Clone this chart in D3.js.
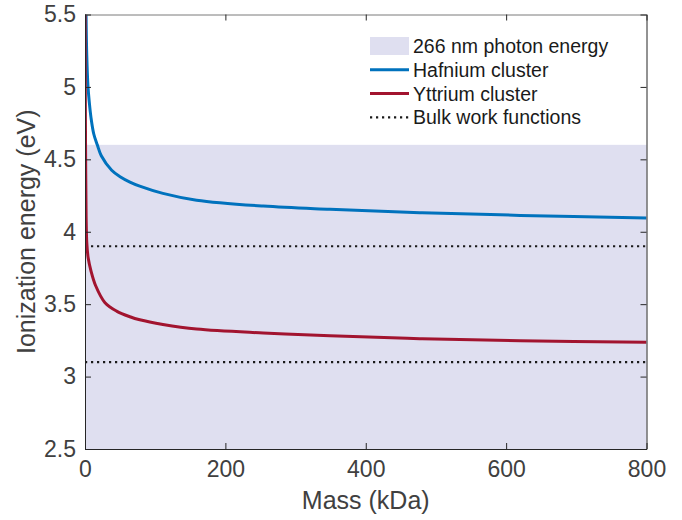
<!DOCTYPE html>
<html lang="en">
<head>
    <meta charset="UTF-8">
    <title>Ionization energy</title>
    <script src="https://cdn.jsdelivr.net/npm/d3@7"></script>
    <style>
        body { margin: 0; background: #fff; }
        text { font-family: "Liberation Sans", Arial, Helvetica, sans-serif; }
    </style>
</head>
<body>
</body>
<script>
    const width = 682;
    const height = 520;

    // values
    const hfMass = [1.5, 2.5, 4.3, 6, 8.5, 12.5, 17.5, 23.2, 38, 50, 64, 78, 111, 159, 254, 349, 477, 620, 800];
    const hfEnergy = [5.5, 5.22, 5.0, 4.9, 4.79, 4.675, 4.6, 4.525, 4.425, 4.38, 4.343, 4.315, 4.265, 4.218, 4.177, 4.155, 4.132, 4.113, 4.095];
    const yMass = [0.2, 0.4, 0.9, 1.6, 2.6, 4.5, 8.5, 15.2, 28.5, 45, 64, 78, 111, 159, 254, 349, 477, 620, 800];
    const yEnergy = [5.5, 5.0, 4.5, 4.1, 3.92, 3.82, 3.73, 3.627, 3.51, 3.452, 3.413, 3.392, 3.36, 3.328, 3.301, 3.282, 3.262, 3.248, 3.237];
    const photonEnergy = 4.6;
    const workFunctions = [3.9, 3.1];
    const xTicks = [0, 200, 400, 600, 800];
    const yTicks = [2.5, 3, 3.5, 4, 4.5, 5, 5.5];
    const legendLabels = ["266 nm photon energy", "Hafnium cluster", "Yttrium cluster", "Bulk work functions"];

    const blue = "#0072bd";
    const red = "#a2142f";
    const shade = "#dfdff0";
    const axisColor = "#262626";

    const pLeft = 85, pRight = 646.5, pTop = 14.5, pBottom = 449;

    const x = d3.scaleLinear().domain([0, 800]).range([pLeft, pRight]);
    const y = d3.scaleLinear().domain([2.5, 5.5]).range([pBottom, pTop]);

    const svg = d3.select("body")
    .append("svg")
        .attr("width", width)
        .attr("height", height);

    svg.append("clipPath")
        .attr("id", "plot-clip")
      .append("rect")
        .attr("x", pLeft)
        .attr("y", pTop)
        .attr("width", pRight - pLeft)
        .attr("height", pBottom - pTop);

    // shaded band up to the photon energy
    svg.append("rect")
        .attr("x", x(0))
        .attr("y", y(photonEnergy))
        .attr("width", x(800) - x(0))
        .attr("height", y(2.5) - y(photonEnergy))
        .attr("fill", shade);

    const plot = svg.append("g").attr("clip-path", "url(#plot-clip)");

    // bulk work functions
    plot.selectAll("line.work")
        .data(workFunctions)
        .enter()
        .append("line")
        .attr("class", "work")
        .attr("x1", x(0))
        .attr("x2", x(800))
        .attr("y1", d => y(d))
        .attr("y2", d => y(d))
        .attr("stroke", "#1a1a1a")
        .attr("stroke-width", 2.2)
        .attr("stroke-dasharray", "2.2,3.8");

    const line = d3.line()
        .x(d => x(d[0]))
        .y(d => y(d[1]))
        .curve(d3.curveCatmullRom.alpha(0.5));

    plot.append("path")
        .attr("d", line(d3.zip(hfMass, hfEnergy)))
        .attr("fill", "none")
        .attr("stroke", blue)
        .attr("stroke-width", 3);

    plot.append("path")
        .attr("d", line(d3.zip(yMass, yEnergy)))
        .attr("fill", "none")
        .attr("stroke", red)
        .attr("stroke-width", 3);

    // axes, MATLAB style box with inward ticks
    const tick = 6;
    svg.append("g")
        .attr("transform", `translate(0,${pBottom})`)
        .call(d3.axisBottom(x).tickValues(xTicks).tickSizeInner(-tick).tickSizeOuter(0).tickPadding(12))
        .call(g => g.select(".domain").attr("stroke", axisColor));
    svg.append("g")
        .attr("transform", `translate(0,${pTop})`)
        .call(d3.axisTop(x).tickValues(xTicks).tickSizeInner(-tick).tickSizeOuter(0).tickFormat(""))
        .call(g => g.select(".domain").attr("stroke", "#7a7a7a"));
    svg.append("g")
        .attr("transform", `translate(${pLeft},0)`)
        .call(d3.axisLeft(y).tickValues(yTicks).tickSizeInner(-tick).tickSizeOuter(0).tickPadding(9).tickFormat(d3.format("")))
        .call(g => g.select(".domain").attr("stroke", axisColor));
    svg.append("g")
        .attr("transform", `translate(${pRight},0)`)
        .call(d3.axisRight(y).tickValues(yTicks).tickSizeInner(-tick).tickSizeOuter(0).tickFormat(""))
        .call(g => g.select(".domain").attr("stroke", axisColor));

    svg.selectAll(".tick line").attr("stroke", axisColor);
    svg.selectAll(".tick text")
        .attr("fill", "#404040")
        .style("font-size", "23px")
        .style("font-family", "'Liberation Sans', Arial, sans-serif");

    svg.append("text")
        .attr("x", (pLeft + pRight) / 2)
        .attr("y", 509)
        .attr("text-anchor", "middle")
        .attr("fill", "#404040")
        .style("font-size", "25px")
        .text("Mass (kDa)");

    svg.append("text")
        .attr("transform", `translate(35,${(pTop + pBottom) / 2}) rotate(-90)`)
        .attr("text-anchor", "middle")
        .attr("fill", "#404040")
        .style("font-size", "25px")
        .text("Ionization energy (eV)");

    // legend
    const legend = svg.append("g")
        .attr("transform", "translate(370,46)");

    legend.append("rect")
        .attr("x", 0)
        .attr("y", -9)
        .attr("width", 39)
        .attr("height", 18)
        .attr("fill", shade);

    const legendLines = [
        { color: blue, dash: null, width: 3 },
        { color: red, dash: null, width: 3 },
        { color: "#1a1a1a", dash: "2.2,3.8", width: 2.2 }
    ];

    legend.selectAll("line")
        .data(legendLines)
        .enter()
        .append("line")
        .attr("x1", 0)
        .attr("x2", 39)
        .attr("y1", (d, i) => (i + 1) * 23.8)
        .attr("y2", (d, i) => (i + 1) * 23.8)
        .attr("stroke", d => d.color)
        .attr("stroke-width", d => d.width)
        .attr("stroke-dasharray", d => d.dash);

    legend.selectAll("text")
        .data(legendLabels)
        .enter()
        .append("text")
        .attr("x", 43)
        .attr("y", (d, i) => i * 23.8 + 7)
        .attr("fill", "#1a1a1a")
        .style("font-size", "19.5px")
        .text(d => d);
</script>
</html>
